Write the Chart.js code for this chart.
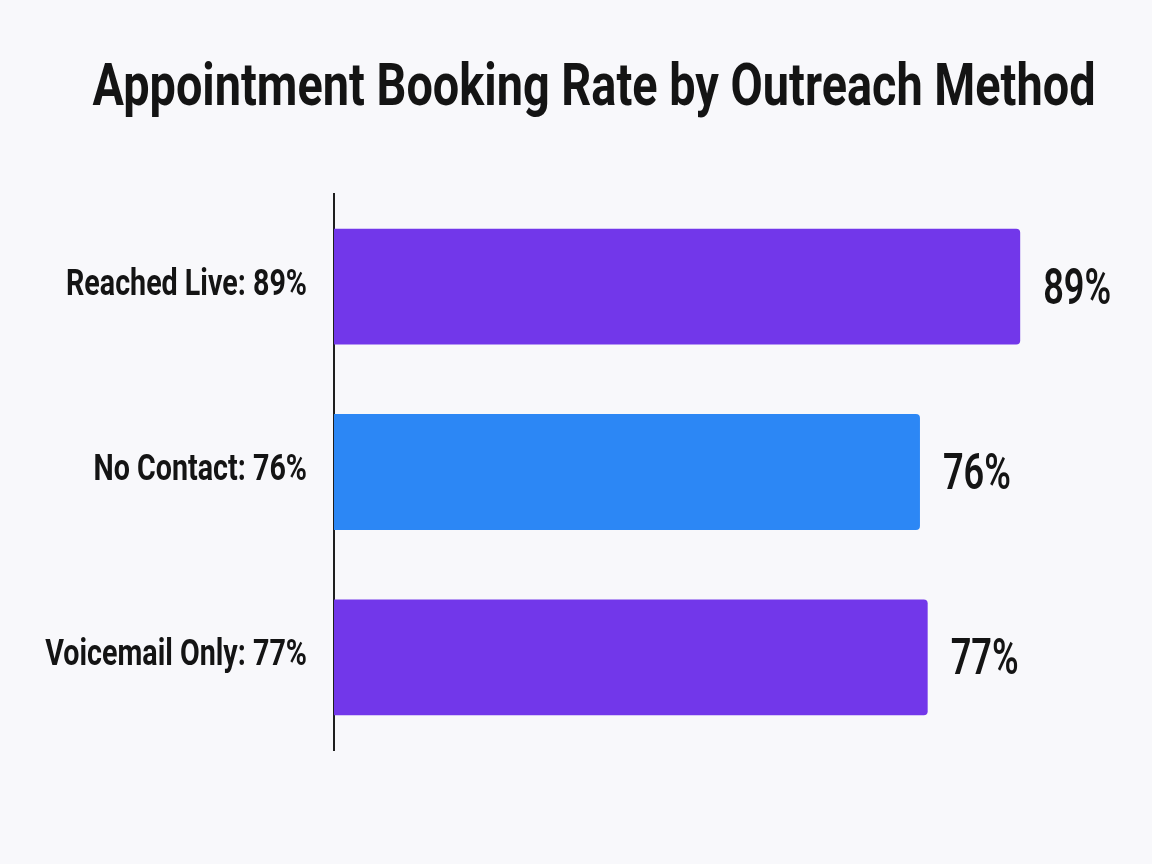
<!DOCTYPE html>
<html>
<head>
<meta charset="utf-8">
<script src="https://cdn.jsdelivr.net/npm/chart.js@4.4.1/dist/chart.umd.min.js"></script>
<style>
  html, body { margin: 0; padding: 0; background: #f8f8fb; }
  #wrap { width: 1152px; height: 864px; }
</style>
</head>
<body>
<div id="wrap"><canvas id="chart" width="1152" height="864"></canvas></div>
<script>
const chartTitle = "Appointment Booking Rate by Outreach Method";
const categories = ["Reached Live: 89%", "No Contact: 76%", "Voicemail Only: 77%"];
const rates = [89, 76, 77];
const valueLabels = ["89%", "76%", "77%"];
const barColors = ["#7237ea", "#2c87f5", "#7237ea"];

const FONT = "Roboto, 'Liberation Sans', sans-serif";
const INK = "#141414";

// the reference uses a condensed face, so squeeze text horizontally
function drawSqueezed(ctx, text, x, y, sx, align) {
  ctx.save();
  ctx.translate(x, y);
  ctx.scale(sx, 1);
  ctx.textAlign = align;
  ctx.fillText(text, 0, 0);
  ctx.restore();
}

const textPlugin = {
  id: "texts",
  afterDraw(chart) {
    const ctx = chart.ctx;
    const yScale = chart.scales.y;
    const meta = chart.getDatasetMeta(0);
    ctx.save();
    ctx.fillStyle = INK;
    ctx.textBaseline = "alphabetic";

    // title
    ctx.font = "bold 60px " + FONT;
    let sx = 1003 / ctx.measureText(chartTitle).width;
    drawSqueezed(ctx, chartTitle, 594, 105, sx, "center");

    // category labels, right aligned against the axis
    ctx.font = "bold 36px " + FONT;
    sx = 241 / ctx.measureText(categories[0]).width;
    categories.forEach((lab, i) => {
      const y = yScale.getPixelForTick(i);
      drawSqueezed(ctx, lab, 307, y + 8, sx, "right");
    });

    // values at the bar ends
    ctx.font = "600 50px " + FONT;
    sx = 68 / ctx.measureText(valueLabels[0]).width;
    meta.data.forEach((bar, i) => {
      drawSqueezed(ctx, valueLabels[i], bar.x + 23, bar.y + 17, sx, "left");
    });
    ctx.restore();
  },
};

const ctx = document.getElementById("chart");
new Chart(ctx, {
  type: "bar",
  data: {
    labels: categories,
    datasets: [
      {
        data: rates,
        backgroundColor: barColors,
        borderRadius: 4,
        borderSkipped: "start",
        barPercentage: 0.625,
        categoryPercentage: 1,
      },
    ],
  },
  options: {
    indexAxis: "y",
    responsive: false,
    animation: false,
    layout: {
      padding: { top: 194, right: 47, bottom: 114, left: 0 },
    },
    plugins: {
      legend: { display: false },
      tooltip: { enabled: false },
    },
    scales: {
      x: {
        min: 0,
        max: 100,
        display: false,
      },
      y: {
        grid: { display: false, drawTicks: false },
        border: { display: true, color: "#1e1e1e", width: 2 },
        ticks: { display: false },
        afterFit(scale) {
          scale.width = 334;
        },
      },
    },
  },
  plugins: [textPlugin],
});
</script>
</body>
</html>
